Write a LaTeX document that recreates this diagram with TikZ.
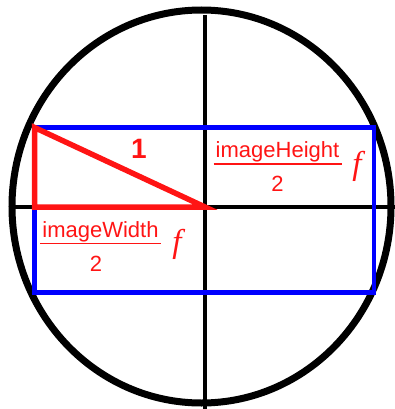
\documentclass[tikz,border=0pt]{standalone}
\usepackage{fontspec}
\setmainfont{Liberation Sans}
\newfontfamily\seriffont{Liberation Serif}
\definecolor{myred}{RGB}{255,20,20}
\definecolor{myblue}{RGB}{0,0,255}
\begin{document}
\begin{tikzpicture}[x=1pt,y=-1pt,
  axis/.style={black,line width=3.5pt},
  rim/.style={black,line width=7pt},
  box/.style={myblue,line width=4.5pt},
  tri/.style={myred,line width=5.5pt,line join=miter},
  lbl/.style={text=myred,inner sep=0pt,font=\fontsize{22}{24}\selectfont},
  fvar/.style={text=myred,inner sep=0pt,font=\fontsize{33}{35}\selectfont\seriffont\itshape},
  fracline/.style={myred,line width=1.5pt}]
\useasboundingbox (0,0) rectangle (395,409);
% axes
\coordinate (vt) at (205,15);
\coordinate (vb) at (205,409);
\coordinate (hl) at (15,207);
\coordinate (hr) at (395,207);
\draw[axis] (vt) -- (vb);
\draw[axis] (hl) -- (hr);
% circle
\coordinate (c) at (201.5,206.5);
\draw[rim] (c) ellipse [x radius=189.5, y radius=196.5];
% blue rectangle
\coordinate (r1) at (34.5,127.5);
\coordinate (r2) at (374,292.5);
\draw[box] (r1) rectangle (r2);
% red triangle
\coordinate (ta) at (34.5,127.5);
\coordinate (tb) at (34.5,207);
\coordinate (tc) at (205,207);
\draw[tri] (ta) -- (tb) -- (tc) -- cycle;
% label 1
\node[lbl,font=\fontsize{28}{30}\selectfont\bfseries] (one) at (139,149) {1};
% imageHeight / 2 f
\node[lbl,anchor=base] (hnum) at (277.5,157) {imageHeight};
\coordinate (hl1) at (213.5,164);
\coordinate (hl2) at (342,164);
\draw[fracline] (hl1) -- (hl2);
\node[lbl,anchor=base] (hden) at (277.5,191) {2};
\node[fvar] (hf) at (357,166) {f};
% imageWidth / 2 f
\node[lbl,anchor=base] (wnum) at (100.5,237) {imageWidth};
\coordinate (wl1) at (40,243.5);
\coordinate (wl2) at (161,243.5);
\draw[fracline] (wl1) -- (wl2);
\node[lbl,anchor=base] (wden) at (96,271) {2};
\node[fvar] (wf) at (177,244) {f};
\end{tikzpicture}
\end{document}
